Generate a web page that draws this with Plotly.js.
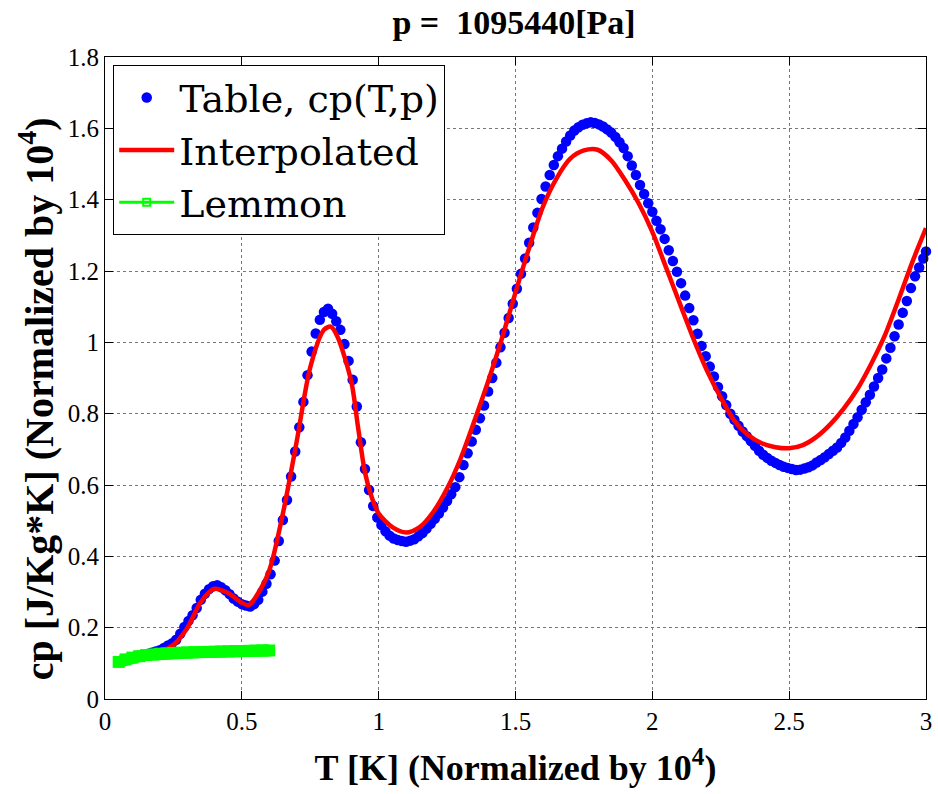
<!DOCTYPE html>
<html>
<head>
<meta charset="utf-8">
<script src="https://cdn.plot.ly/plotly-3.0.1.min.js"></script>
<style>html,body{margin:0;padding:0;background:#fff;}#chart{width:938px;height:794px;}</style>
</head>
<body>
<div id="chart"></div>
<script>
// Table, cp(T,p)
const tableT = [
0.05,0.065,0.08,0.095,0.11,0.125,0.14,0.155,0.17,0.185,
0.2,0.215,0.23,0.245,0.26,0.275,0.29,0.305,0.32,0.335,
0.35,0.365,0.38,0.395,0.41,0.425,0.44,0.455,0.47,0.485,
0.5,0.515,0.53,0.545,0.56,0.575,0.59,0.605,0.62,0.635,
0.65,0.665,0.68,0.695,0.71,0.725,0.74,0.755,0.77,0.785,
0.8,0.815,0.83,0.845,0.86,0.875,0.89,0.905,0.92,0.935,
0.95,0.965,0.98,0.995,1.01,1.025,1.04,1.055,1.07,1.085,
1.1,1.115,1.13,1.145,1.16,1.175,1.19,1.205,1.22,1.235,
1.25,1.265,1.28,1.295,1.31,1.325,1.34,1.355,1.37,1.385,
1.4,1.415,1.43,1.445,1.46,1.475,1.49,1.505,1.52,1.535,
1.55,1.565,1.58,1.595,1.61,1.625,1.64,1.655,1.67,1.685,
1.7,1.715,1.73,1.745,1.76,1.775,1.79,1.805,1.82,1.835,
1.85,1.865,1.88,1.895,1.91,1.925,1.94,1.955,1.97,1.985,
2.0,2.015,2.03,2.045,2.06,2.075,2.09,2.105,2.12,2.135,
2.15,2.165,2.18,2.195,2.21,2.225,2.24,2.255,2.27,2.285,
2.3,2.315,2.33,2.345,2.36,2.375,2.39,2.405,2.42,2.435,
2.45,2.465,2.48,2.495,2.51,2.525,2.54,2.555,2.57,2.585,
2.6,2.615,2.63,2.645,2.66,2.675,2.69,2.705,2.72,2.735,
2.75,2.765,2.78,2.795,2.81,2.825,2.84,2.855,2.87,2.885,
2.9,2.915,2.93,2.945,2.96,2.975,2.99,3.0
];
const tableCp = [
0.105,0.108,0.111,0.114,0.117,0.120,0.123,0.126,0.130,0.133,
0.137,0.143,0.150,0.156,0.166,0.183,0.202,0.219,0.235,0.255,
0.278,0.295,0.308,0.316,0.319,0.313,0.305,0.294,0.282,0.273,
0.266,0.262,0.259,0.266,0.278,0.301,0.323,0.350,0.388,0.443,
0.502,0.558,0.624,0.694,0.762,0.833,0.908,0.974,1.025,1.063,
1.085,1.094,1.080,1.059,1.035,0.995,0.948,0.895,0.820,0.720,
0.645,0.586,0.541,0.509,0.488,0.470,0.458,0.450,0.446,0.443,
0.441,0.444,0.448,0.456,0.465,0.478,0.491,0.505,0.520,0.537,
0.555,0.574,0.594,0.622,0.656,0.689,0.722,0.755,0.787,0.823,
0.862,0.900,0.943,0.986,1.027,1.068,1.108,1.150,1.192,1.235,
1.279,1.322,1.363,1.402,1.437,1.469,1.497,1.522,1.543,1.563,
1.580,1.594,1.603,1.610,1.614,1.617,1.615,1.611,1.605,1.597,
1.588,1.576,1.561,1.545,1.522,1.496,1.469,1.441,1.416,1.390,
1.366,1.341,1.317,1.290,1.258,1.228,1.198,1.166,1.131,1.096,
1.062,1.024,0.990,0.961,0.932,0.904,0.875,0.849,0.824,0.800,
0.783,0.766,0.750,0.737,0.723,0.710,0.696,0.685,0.676,0.668,
0.662,0.656,0.651,0.648,0.645,0.642,0.643,0.646,0.650,0.655,
0.663,0.670,0.678,0.687,0.696,0.705,0.718,0.733,0.752,0.771,
0.790,0.811,0.832,0.853,0.876,0.900,0.924,0.955,0.985,1.017,
1.050,1.083,1.116,1.152,1.185,1.210,1.235,1.255
];

// Interpolated
const interpT = [
0.05,0.1,0.15,0.2,0.25,0.3,0.35,0.4,0.45,0.5,0.525,0.55,0.6,0.65,0.7,0.75,0.8,0.825,0.85,0.9,
0.925,0.95,0.975,1.0,1.05,1.1,1.15,1.2,1.25,1.3,1.35,1.4,1.45,1.5,1.55,1.6,1.65,1.7,1.75,1.8,
1.85,1.9,1.95,2.0,2.05,2.1,2.15,2.2,2.25,2.3,2.35,2.4,2.45,2.5,2.55,2.6,2.65,2.7,2.75,2.8,
2.85,2.9,2.95,3.0
];
const interpCp = [
0.105,0.115,0.123,0.132,0.152,0.198,0.272,0.309,0.297,0.270,0.263,0.285,0.360,0.520,0.720,0.930,1.035,1.044,1.015,0.890,
0.760,0.635,0.565,0.520,0.482,0.467,0.482,0.525,0.590,0.675,0.780,0.890,1.010,1.140,1.265,1.380,1.460,1.515,1.538,1.540,
1.510,1.455,1.390,1.310,1.210,1.110,1.010,0.920,0.845,0.780,0.740,0.717,0.706,0.703,0.712,0.735,0.770,0.815,0.870,0.940,
1.020,1.120,1.225,1.320
];

// Lemmon
const lemmonT = [
0.05,0.075,0.1,0.125,0.15,0.175,0.2,0.225,0.25,0.275,0.3,0.325,0.35,0.375,0.4,0.425,0.45,0.475,0.5,0.525,0.55,0.575,0.6
];
const lemmonCp = [
0.104,0.111,0.116,0.120,0.123,0.125,0.127,0.128,0.129,0.130,0.1305,0.131,0.1315,0.132,0.1325,0.133,0.1335,0.134,0.1345,0.135,0.1355,0.136,0.136
];

const xTicks = [0,0.5,1,1.5,2,2.5,3];
const yTicks = [0,0.2,0.4,0.6,0.8,1,1.2,1.4,1.6,1.8];

const titleText = 'p =  1095440[Pa]';
const xTitle = 'T [K] (Normalized by 10<sup>4</sup>)';
const yTitle = 'cp [J/Kg*K] (Normalized by 10<sup>4</sup>)';

const FONT = '"Liberation Serif", "Times New Roman", serif';
const LEGFONT = '"DejaVu Serif", "Liberation Serif", serif';

const traces = [
  {x: tableT, y: tableCp, type: 'scatter', mode: 'markers', name: 'Table, cp(T,p)',
   marker: {color: '#0000ff', size: 10.5}, cliponaxis: false},
  {x: interpT, y: interpCp, type: 'scatter', mode: 'lines', name: 'Interpolated',
   line: {color: '#ff0000', width: 4.5, shape: 'spline', smoothing: 0.8}},
  {x: lemmonT, y: lemmonCp, type: 'scatter', mode: 'lines+markers', name: 'Lemmon', showlegend: false,
   line: {color: '#00ff00', width: 12}, marker: {color: '#00ff00', size: 12, symbol: 'square'}},
  {x: [null], y: [null], type: 'scatter', mode: 'lines+markers', name: 'Lemmon',
   line: {color: '#00ff00', width: 3}, marker: {color: '#00ff00', size: 7, symbol: 'square-open', line: {color: '#00ff00', width: 2}}}
];

const axisCommon = {
  showline: true, linecolor: '#000', linewidth: 1, mirror: 'ticks',
  ticks: 'inside', ticklen: 8, tickcolor: '#000', tickwidth: 1,
  showgrid: true, gridcolor: '#777', griddash: 'dot', gridwidth: 1,
  zeroline: false, tickfont: {family: FONT, size: 25, color: '#000'}
};

const layout = {
  width: 938, height: 794,
  paper_bgcolor: '#fff', plot_bgcolor: '#fff',
  margin: {l: 105, r: 12, t: 57, b: 95},
  title: {text: '<b>' + titleText + '</b>', font: {family: FONT, size: 34, color: '#000'},
          x: 0.548, xanchor: 'center', y: 0.972, yanchor: 'middle'},
  xaxis: Object.assign({}, axisCommon, {
    range: [0, 3], tickvals: xTicks, ticktext: xTicks.map(String),
    title: {text: '<b>' + xTitle + '</b>', font: {family: FONT, size: 36, color: '#000'}, standoff: 20}
  }),
  yaxis: Object.assign({}, axisCommon, {
    range: [0, 1.8], tickvals: yTicks, ticktext: yTicks.map(String)
  }),
  annotations: [{
    text: '<b>' + yTitle + '</b>', textangle: -90, showarrow: false,
    xref: 'paper', yref: 'paper', x: -0.084, y: 0.467, xanchor: 'center', yanchor: 'middle',
    font: {family: FONT, size: 40, color: '#000'}
  }],
  legend: {
    x: 0.01, y: 0.987, xanchor: 'left', yanchor: 'top',
    bgcolor: '#fff', bordercolor: '#000', borderwidth: 1,
    font: {family: LEGFONT, size: 38, color: '#000'}, itemwidth: 55, tracegroupgap: 0
  },
  showlegend: true
};

Plotly.newPlot('chart', traces, layout, {displayModeBar: false, staticPlot: true});
</script>
</body>
</html>
